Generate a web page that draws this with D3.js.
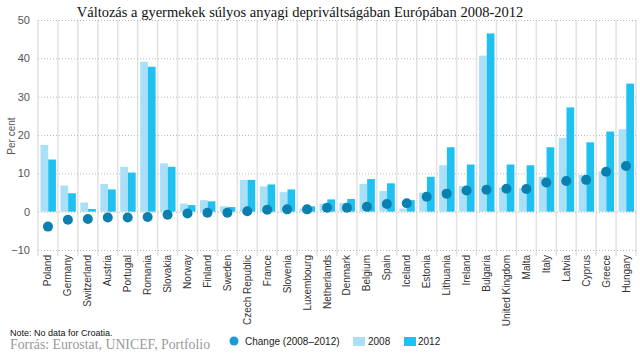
<!DOCTYPE html>
<html>
<head>
<meta charset="utf-8">
<script src="https://cdn.jsdelivr.net/npm/d3@7.9.0/dist/d3.min.js"></script>
<style>
  body { margin: 0; background: #fff; }
  svg { display: block; }
  .sans { font-family: "Liberation Sans", Arial, Helvetica, sans-serif; }
  .serif { font-family: "Liberation Serif", "Times New Roman", serif; }
</style>
</head>
<body>
<svg id="chart" width="640" height="354"></svg>
<script>
const countries = ["Poland", "Germany", "Switzerland", "Austria", "Portugal", "Romania", "Slovakia",
  "Norway", "Finland", "Sweden", "Czech Republic", "France", "Slovenia", "Luxembourg", "Netherlands",
  "Denmark", "Belgium", "Spain", "Iceland", "Estonia", "Lithuania", "Ireland", "Bulgaria",
  "United Kingdom", "Malta", "Italy", "Latvia", "Cyprus", "Greece", "Hungary"];
const v2008 = [17.4, 6.8, 2.4, 7.2, 11.7, 39.1, 12.6, 2.1, 3.0, 1.4, 8.3, 6.6, 5.1, 0.8, 2.1,
  2.3, 7.2, 5.4, 0.8, 5.0, 12.1, 6.7, 40.7, 6.3, 6.1, 9.1, 19.2, 9.6, 10.5, 21.5];
const v2012 = [13.6, 4.8, 0.7, 5.8, 10.2, 37.8, 11.7, 1.7, 2.7, 1.2, 8.3, 7.1, 5.8, 1.4, 3.2,
  3.3, 8.5, 7.4, 3.0, 9.1, 16.8, 12.3, 46.5, 12.3, 12.1, 16.8, 27.2, 18.1, 20.9, 33.4];
const change = [-3.9, -2.1, -1.9, -1.5, -1.5, -1.4, -0.8, -0.5, -0.3, -0.3, 0.1, 0.5, 0.6, 0.6, 1.0,
  1.0, 1.3, 2.0, 2.2, 3.9, 4.7, 5.5, 5.7, 6.0, 5.9, 7.6, 8.0, 8.3, 10.4, 11.9];
const yTicks = [-10, 0, 10, 20, 30, 40, 50];

const title = "Változás a gyermekek súlyos anyagi depriváltságában Európában 2008-2012";
const note = "Note: No data for Croatia.";
const source = "Forrás: Eurostat, UNICEF, Portfolio";

const col2008 = "#a9dff7";
const col2012 = "#1fc1f0";
const colDot = "#0a80b0";

const data = countries.map((c, i) => ({ country: c, y2008: v2008[i], y2012: v2012[i], change: change[i] }));

const svg = d3.select("#chart");
const plotLeft = 38, plotRight = 636, plotTop = 20, plotBottom = 250;

const x = d3.scaleBand().domain(countries).range([plotLeft, plotRight]).padding(0);
const xs = d3.scaleBand().domain(["y2008", "y2012"]).range([2.5, x.bandwidth() - 2]).padding(0);
const y = d3.scaleLinear().domain([-10, 50]).range([plotBottom, plotTop]);

const colors = { y2008: col2008, y2012: col2012 };

// vertical column separators
svg.append("g")
  .selectAll("line")
  .data(countries.concat([null]))
  .join("line")
  .attr("x1", (d, i) => plotLeft + i * x.step())
  .attr("x2", (d, i) => plotLeft + i * x.step())
  .attr("y1", plotTop)
  .attr("y2", plotBottom + 6)
  .attr("stroke", "#e2e2e2")
  .attr("stroke-width", 1.5);

// horizontal dotted grid
svg.append("g")
  .selectAll("line")
  .data(yTicks)
  .join("line")
  .attr("x1", plotLeft)
  .attr("x2", plotRight + 1)
  .attr("y1", d => y(d) + 0.5)
  .attr("y2", d => y(d) + 0.5)
  .attr("stroke", "#b8b8b8")
  .attr("stroke-width", 1)
  .attr("stroke-dasharray", "1,2");

// y axis labels
const yAxis = svg.append("g")
  .attr("transform", `translate(${plotLeft},0)`)
  .call(d3.axisLeft(y).tickValues(yTicks).tickSize(0).tickPadding(8));
yAxis.select(".domain").remove();
yAxis.attr("font-family", null).attr("font-size", null);
yAxis.selectAll("text")
  .attr("class", "sans")
  .attr("font-size", 11)
  .attr("fill", "#555");

svg.append("text")
  .attr("class", "sans")
  .attr("transform", `translate(15,136) rotate(-90)`)
  .attr("text-anchor", "middle")
  .attr("font-size", 10)
  .attr("fill", "#555")
  .text("Per cent");

// bars
const groups = svg.append("g")
  .selectAll("g")
  .data(data)
  .join("g")
  .attr("transform", d => `translate(${x(d.country)},0)`);

groups.selectAll("rect")
  .data(d => ["y2008", "y2012"].map(k => ({ key: k, value: d[k] })))
  .join("rect")
  .attr("x", d => xs(d.key))
  .attr("width", xs.bandwidth())
  .attr("y", d => y(Math.max(0, d.value)))
  .attr("height", d => Math.abs(y(d.value) - y(0)))
  .attr("fill", d => colors[d.key]);

// change dots
svg.append("g")
  .selectAll("circle")
  .data(data)
  .join("circle")
  .attr("cx", d => x(d.country) + x.bandwidth() / 2)
  .attr("cy", d => y(d.change))
  .attr("r", 5)
  .attr("fill", colDot);

// x labels
const xAxis = svg.append("g")
  .attr("transform", `translate(0,${plotBottom})`)
  .call(d3.axisBottom(x).tickSize(0).tickPadding(0));
xAxis.select(".domain").remove();
xAxis.attr("font-family", null).attr("font-size", null);
xAxis.selectAll("text")
  .attr("class", "sans")
  .attr("transform", "translate(0,5) rotate(-90)")
  .attr("text-anchor", "end")
  .attr("dy", "0.35em")
  .attr("x", 0)
  .attr("y", 0)
  .attr("font-size", 10)
  .attr("fill", "#333");

// title
svg.append("text")
  .attr("class", "serif")
  .attr("x", 300)
  .attr("y", 17)
  .attr("text-anchor", "middle")
  .attr("font-size", 14.5)
  .attr("fill", "#111")
  .text(title);

// note and source
svg.append("text")
  .attr("class", "sans")
  .attr("x", 10)
  .attr("y", 336)
  .attr("font-size", 9)
  .attr("fill", "#111")
  .text(note);

svg.append("text")
  .attr("class", "serif")
  .attr("x", 10)
  .attr("y", 349)
  .attr("font-size", 13.8)
  .attr("fill", "#999")
  .text(source);

// legend
const legend = svg.append("g")
  .attr("class", "sans")
  .attr("font-size", 10)
  .attr("fill", "#222");

legend.append("circle").attr("cx", 234).attr("cy", 341).attr("r", 4.5).attr("fill", "#1a9bd5");
legend.append("text").attr("x", 245).attr("y", 344.5).text("Change (2008–2012)");

legend.append("rect").attr("x", 353).attr("y", 337).attr("width", 12).attr("height", 9).attr("fill", col2008);
legend.append("text").attr("x", 368).attr("y", 344.5).text("2008");

legend.append("rect").attr("x", 404).attr("y", 337).attr("width", 12).attr("height", 9).attr("fill", col2012);
legend.append("text").attr("x", 418).attr("y", 344.5).text("2012");
</script>
</body>
</html>
